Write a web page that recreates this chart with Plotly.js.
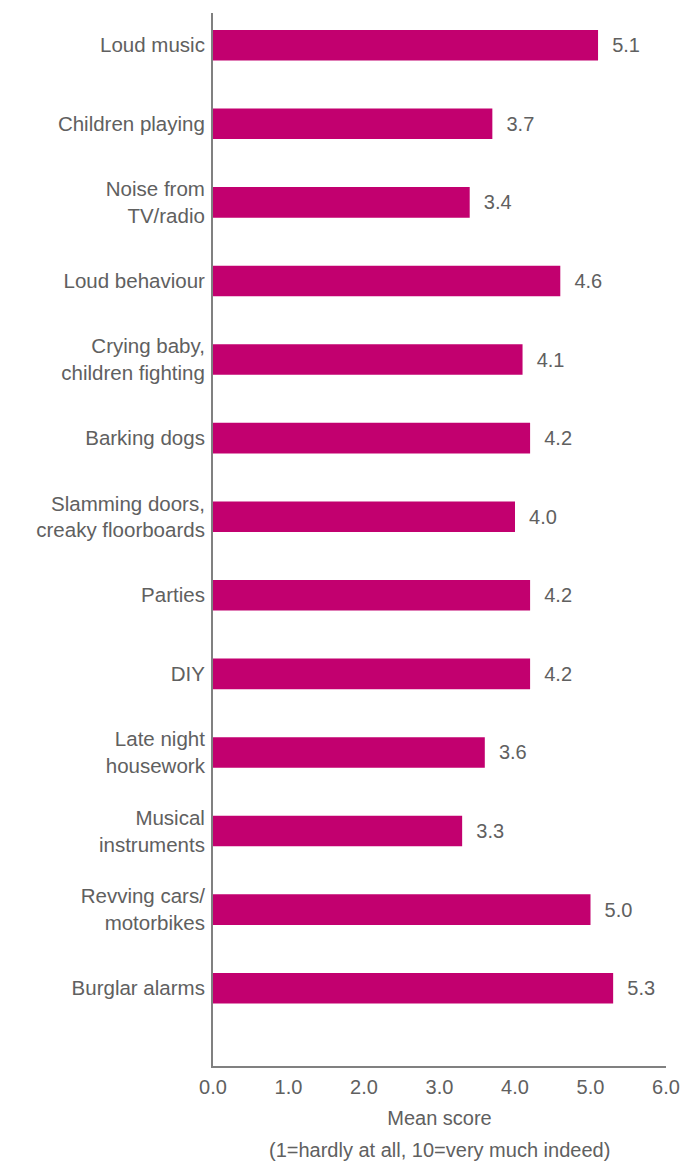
<!DOCTYPE html>
<html>
<head>
<meta charset="utf-8">
<script src="https://cdn.plot.ly/plotly-3.0.1.min.js"></script>
<style>
  html, body { margin: 0; padding: 0; background: #fff; }
  #chart { width: 687px; height: 1165px; }
  #edge { position: absolute; left: 0; top: 0; width: 3px; height: 1165px; background: #A3228E; }
</style>
</head>
<body>
<div id="edge"></div>
<div id="chart"></div>
<script>
const categories = [
  "Loud music",
  "Children playing",
  "Noise from<br>TV/radio",
  "Loud behaviour",
  "Crying baby,<br>children fighting",
  "Barking dogs",
  "Slamming doors,<br>creaky floorboards",
  "Parties",
  "DIY",
  "Late night<br>housework",
  "Musical<br>instruments",
  "Revving cars/<br>motorbikes",
  "Burglar alarms"
];
const meanScores = [5.1, 3.7, 3.4, 4.6, 4.1, 4.2, 4.0, 4.2, 4.2, 3.6, 3.3, 5.0, 5.3];
const xTickValues = [0, 1, 2, 3, 4, 5, 6];
const xTickLabels = ["0.0", "1.0", "2.0", "3.0", "4.0", "5.0", "6.0"];

const grey = "#606060";
const font = "Liberation Sans, Arial, Helvetica, sans-serif";

const trace = {
  type: "bar",
  orientation: "h",
  y: categories,
  x: meanScores,
  marker: { color: "#C2006F" },
  width: 0.39,
  texttemplate: "\u00a0\u00a0%{x:.1f}",
  textposition: "outside",
  constraintext: "none",
  cliponaxis: false,
  textfont: { family: font, size: 20, color: grey },
  hoverinfo: "skip"
};

const layout = {
  width: 687,
  height: 1165,
  margin: { l: 213, r: 21, t: 13, b: 99 },
  paper_bgcolor: "#ffffff",
  plot_bgcolor: "#ffffff",
  showlegend: false,
  font: { family: font, size: 20, color: grey },
  xaxis: {
    range: [0, 6],
    tickvals: xTickValues,
    ticktext: xTickLabels,
    showgrid: false,
    zeroline: false,
    showline: true,
    linecolor: "#808080",
    linewidth: 2,
    ticks: "",
    ticklabelstandoff: 2,
    tickfont: { family: font, size: 20, color: grey },
    fixedrange: true,
    title: { text: "Mean score", font: { family: font, size: 20, color: grey }, standoff: 14 }
  },
  yaxis: {
    type: "category",
    range: [12.99, -0.41],
    showgrid: false,
    zeroline: false,
    showline: true,
    linecolor: "#808080",
    linewidth: 2,
    ticks: "",
    ticklabelstandoff: 2,
    tickfont: { family: font, size: 20.5, color: grey },
    fixedrange: true
  },
  annotations: [{
    xref: "paper", yref: "paper",
    x: 0.5, y: 0, yshift: -84,
    xanchor: "center", yanchor: "middle",
    showarrow: false,
    text: "(1=hardly at all, 10=very much indeed)",
    font: { family: font, size: 20, color: grey }
  }]
};

Plotly.newPlot("chart", [trace], layout, { displayModeBar: false, staticPlot: true });
</script>
</body>
</html>
